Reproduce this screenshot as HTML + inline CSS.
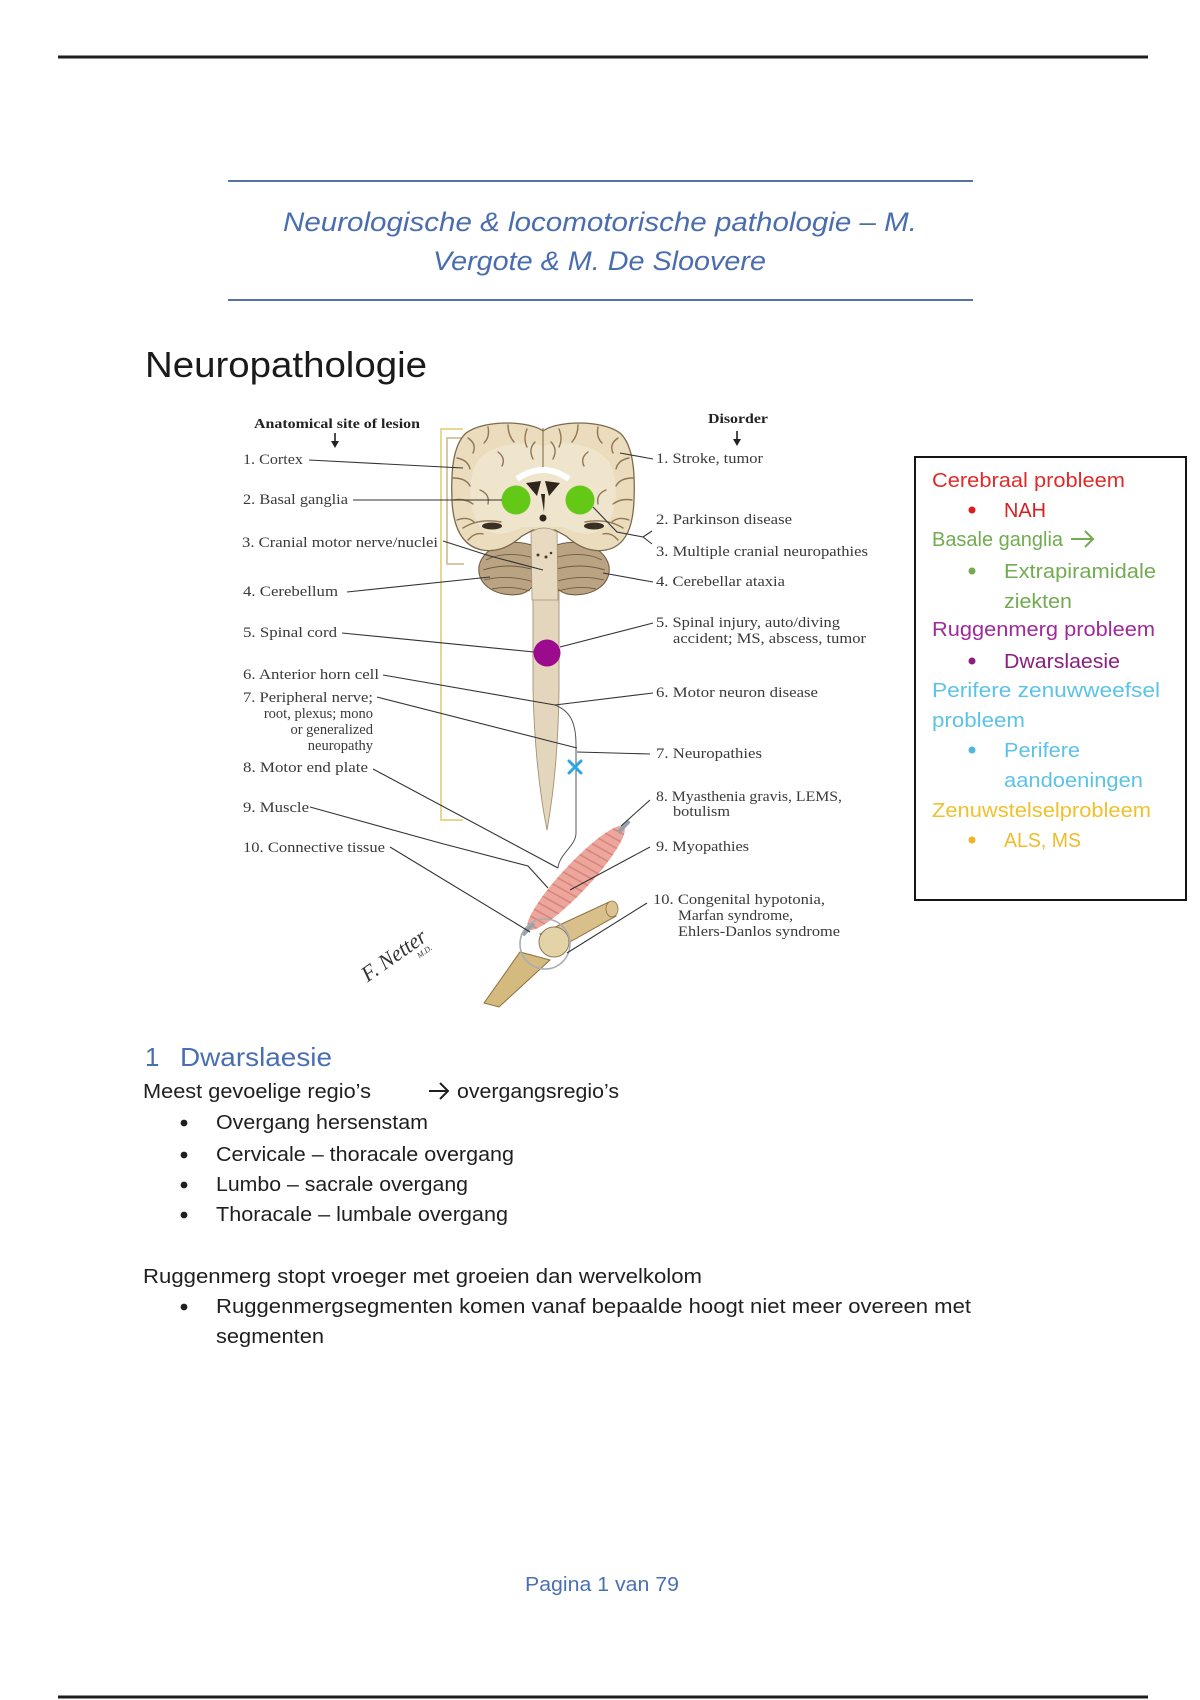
<!DOCTYPE html>
<html>
<head>
<meta charset="utf-8">
<style>
html,body{margin:0;padding:0;background:#fff;}
body{width:1200px;height:1700px;overflow:hidden;}
svg{display:block;}
.sans{font-family:"Liberation Sans",sans-serif;}
.serif{font-family:"Liberation Serif",serif;}
</style>
</head>
<body>
<svg width="1200" height="1700" viewBox="0 0 1200 1700" xmlns="http://www.w3.org/2000/svg">
<defs>
  <clipPath id="mclip">
    <ellipse cx="0" cy="0" rx="70" ry="14"/>
  </clipPath>
</defs>
<rect x="0" y="0" width="1200" height="1700" fill="#ffffff"/>

<!-- page lines -->
<line x1="58" y1="57" x2="1148" y2="57" stroke="#1e1e1e" stroke-width="3"/>
<line x1="58" y1="1697" x2="1148" y2="1697" stroke="#1e1e1e" stroke-width="3"/>

<!-- header -->
<line x1="228" y1="181" x2="973" y2="181" stroke="#5573a8" stroke-width="2"/>
<line x1="228" y1="300" x2="973" y2="300" stroke="#5573a8" stroke-width="2"/>
<g class="sans" font-style="italic" fill="#4a6db0" font-size="27">
  <text x="283" y="231" textLength="634" lengthAdjust="spacingAndGlyphs">Neurologische &amp; locomotorische pathologie – M.</text>
  <text x="433" y="270" textLength="333" lengthAdjust="spacingAndGlyphs">Vergote &amp; M. De Sloovere</text>
</g>

<text class="sans" x="145" y="377" font-size="36" fill="#1a1a1a" textLength="282" lengthAdjust="spacingAndGlyphs">Neuropathologie</text>

<!-- ================= DIAGRAM ================= -->
<!-- yellow bracket -->
<polyline points="463,429 441,429 441,820 463,820" fill="none" stroke="#e6d88e" stroke-width="2"/>
<polyline points="464,438 447,438 447,564 464,564" fill="none" stroke="#d8c7a4" stroke-width="2"/>

<!-- spinal cord -->
<path d="M533,590 L533,690 Q535,770 547,830 Q558,770 559,690 L559,590 Z" fill="#e4d6bc" stroke="#a39274" stroke-width="0.9"/>

<!-- cerebellum -->
<path d="M538,548 C 516,536 484,544 479,566 C 476,587 500,598 521,594 C 532,591 538,581 538,570 Z" fill="#b9a382" stroke="#6b573e" stroke-width="1"/>
<path d="M550,548 C 572,536 604,544 609,566 C 612,587 588,598 567,594 C 556,591 550,581 550,570 Z" fill="#b9a382" stroke="#6b573e" stroke-width="1"/>
<g fill="none" stroke="#6f5b40" stroke-width="0.9">
  <path d="M486,560 q20,-10 48,-2"/><path d="M483,570 q25,-8 52,0"/><path d="M484,580 q24,-6 50,2"/><path d="M492,589 q18,-4 38,2"/>
  <path d="M602,560 q-20,-10 -48,-2"/><path d="M605,570 q-25,-8 -52,0"/><path d="M604,580 q-24,-6 -50,2"/><path d="M596,589 q-18,-4 -38,2"/>
</g>

<!-- cerebrum -->
<path d="M543,431 C 530,421 485,419 466,433 C 452,446 451,475 452,500 C 453,527 462,546 482,550 C 498,553 512,545 522,536 L 533,530 L 555,530 L 566,536 C 576,545 590,553 606,550 C 626,546 633,527 634,500 C 635,475 634,446 620,433 C 601,419 556,421 543,431 Z" fill="#eadcbd" stroke="#7d6a4c" stroke-width="1.3"/>
<path d="M543,446 C 522,440 490,444 477,462 C 467,480 468,510 480,526 C 492,537 508,535 522,527 L 564,527 C 578,535 594,537 606,526 C 618,510 619,480 609,462 C 596,444 564,440 543,446 Z" fill="#efe5cd"/>
<!-- gyri -->
<g fill="none" stroke="#8f7754" stroke-width="1.4" stroke-linecap="round">
  <path d="M468,438 q9,6 5,15"/><path d="M457,458 q11,2 13,11"/><path d="M453,478 q13,0 17,8"/>
  <path d="M454,500 q11,-2 19,4"/><path d="M457,520 q11,-4 17,2"/><path d="M468,540 q7,-8 15,-6"/>
  <path d="M488,427 q2,10 -4,16"/><path d="M508,425 q0,10 6,17"/><path d="M527,429 q-4,10 0,18"/>
  <path d="M535,442 q-7,7 -2,17"/><path d="M498,452 q8,6 4,14"/><path d="M480,490 q10,4 8,14"/>
  <path d="M618,438 q-9,6 -5,15"/><path d="M629,458 q-11,2 -13,11"/><path d="M633,478 q-13,0 -17,8"/>
  <path d="M632,500 q-11,-2 -19,4"/><path d="M629,520 q-11,-4 -17,2"/><path d="M618,540 q-7,-8 -15,-6"/>
  <path d="M598,427 q-2,10 4,16"/><path d="M578,425 q0,10 -6,17"/><path d="M559,429 q4,10 0,18"/>
  <path d="M551,442 q7,7 2,17"/><path d="M588,452 q-8,6 -4,14"/><path d="M606,490 q-10,4 -8,14"/>
  <path d="M463,528 q16,-10 38,-6"/><path d="M623,528 q-16,-10 -38,-6"/>
</g>
<line x1="543" y1="428" x2="543" y2="470" stroke="#8f7754" stroke-width="1.2"/>
<!-- ventricles -->
<path d="M517,479 Q543,461 569,479" fill="none" stroke="#ffffff" stroke-width="6"/>
<path d="M526,483 L541,481 L537,496 Z" fill="#2e251c"/>
<path d="M560,483 L545,481 L549,496 Z" fill="#2e251c"/>
<path d="M541,494 L545,494 L544,512 Z" fill="#2e251c"/>
<circle cx="543" cy="518" r="3.5" fill="#2e251c"/>
<ellipse cx="492" cy="526" rx="10" ry="3.5" fill="#3b2f23"/>
<ellipse cx="594" cy="526" rx="10" ry="3.5" fill="#3b2f23"/>
<!-- brainstem -->
<path d="M531,532 Q544,524 557,532 L558,600 L532,600 Z" fill="#e7dac0" stroke="#a39274" stroke-width="0.8"/>
<g fill="#4a3b2c"><circle cx="538" cy="555" r="1.5"/><circle cx="546" cy="557" r="1.5"/><circle cx="551" cy="553" r="1.3"/></g>

<!-- nerve -->
<path d="M555,705 C 570,711 576,722 576,745 L 576,833 C 576,846 559,854 558,868" fill="none" stroke="#555" stroke-width="1"/>

<!-- muscle -->
<g transform="translate(576,878) rotate(-47)">
  <ellipse cx="0" cy="0" rx="70" ry="14" fill="#eda69c"/>
  <g clip-path="url(#mclip)" stroke="#d7867e" stroke-width="1.6">
    <line x1="-70" y1="-20" x2="-60" y2="20"/><line x1="-62" y1="-20" x2="-52" y2="20"/><line x1="-54" y1="-20" x2="-44" y2="20"/>
    <line x1="-46" y1="-20" x2="-36" y2="20"/><line x1="-38" y1="-20" x2="-28" y2="20"/><line x1="-30" y1="-20" x2="-20" y2="20"/>
    <line x1="-22" y1="-20" x2="-12" y2="20"/><line x1="-14" y1="-20" x2="-4" y2="20"/><line x1="-6" y1="-20" x2="4" y2="20"/>
    <line x1="2" y1="-20" x2="12" y2="20"/><line x1="10" y1="-20" x2="20" y2="20"/><line x1="18" y1="-20" x2="28" y2="20"/>
    <line x1="26" y1="-20" x2="36" y2="20"/><line x1="34" y1="-20" x2="44" y2="20"/><line x1="42" y1="-20" x2="52" y2="20"/>
    <line x1="50" y1="-20" x2="60" y2="20"/><line x1="58" y1="-20" x2="68" y2="20"/>
  </g>
  <line x1="62" y1="0" x2="78" y2="0" stroke="#9aa0a8" stroke-width="4"/>
  <line x1="-62" y1="0" x2="-78" y2="0" stroke="#9aa0a8" stroke-width="4"/>
</g>

<!-- knee -->
<path d="M484,1003 L520,952 L550,960 L499,1007 Z" fill="#d5ba80" stroke="#8c7040" stroke-width="1"/>
<path d="M540,934 L609,902 L616,916 L552,952 Z" fill="#d9c08a" stroke="#8c7040" stroke-width="1"/>
<ellipse cx="612" cy="909" rx="6" ry="8" fill="#dcc490" stroke="#8c7040" stroke-width="0.8"/>
<circle cx="554" cy="942" r="15" fill="#e3d3a6" stroke="#8c7a55" stroke-width="1"/>
<circle cx="545" cy="944" r="25" fill="none" stroke="#a8adb5" stroke-width="1.6"/>

<!-- colored markers -->
<circle cx="516" cy="500" r="14.5" fill="#63c816"/>
<circle cx="580" cy="500" r="14.5" fill="#63c816"/>
<circle cx="547" cy="653" r="13.5" fill="#9c0a8d"/>
<g stroke="#2aa8e2" stroke-width="3" stroke-linecap="round">
  <line x1="569" y1="761" x2="581" y2="773"/><line x1="581" y1="761" x2="569" y2="773"/>
</g>

<!-- leader lines -->
<g fill="none" stroke="#333" stroke-width="1.1">
  <path d="M309,460 L463,468"/>
  <path d="M353,500 L502,500"/>
  <path d="M443,541 L490,556 L543,570"/>
  <path d="M347,592 L490,577"/>
  <path d="M342,633 L534,652"/>
  <path d="M383,675 L555,705"/>
  <path d="M377,697 L577,748"/>
  <path d="M373,769 L558,868"/>
  <path d="M310,807 L440,843 L528,866 L548,888"/>
  <path d="M390,847 L530,932"/>
  <path d="M620,453 L653,459"/>
  <path d="M593,507 L617,532 L643,537"/>
  <path d="M643,537 L652,531 M643,537 L652,544"/>
  <path d="M603,573 L653,582"/>
  <path d="M560,647 L653,623"/>
  <path d="M555,705 L653,693"/>
  <path d="M577,752 L650,754"/>
  <path d="M650,800 L621,826"/>
  <path d="M650,847 L570,890"/>
  <path d="M647,903 L567,953"/>
</g>

<!-- column headers -->
<g class="serif" font-weight="bold" fill="#222" font-size="14">
  <text x="254" y="428" textLength="166" lengthAdjust="spacingAndGlyphs">Anatomical site of lesion</text>
  <text x="708" y="423" textLength="60" lengthAdjust="spacingAndGlyphs">Disorder</text>
</g>
<g stroke="#222" stroke-width="1.6"><line x1="335" y1="433" x2="335" y2="442"/><line x1="737" y1="431" x2="737" y2="440"/></g>
<path d="M331,441 L339,441 L335,448 Z" fill="#222"/>
<path d="M733,439 L741,439 L737,446 Z" fill="#222"/>

<!-- left labels -->
<g class="serif" fill="#3a3a3a" font-size="14.5">
  <text x="243" y="464" textLength="60" lengthAdjust="spacingAndGlyphs">1. Cortex</text>
  <text x="243" y="504" textLength="105" lengthAdjust="spacingAndGlyphs">2. Basal ganglia</text>
  <text x="242" y="547" textLength="196" lengthAdjust="spacingAndGlyphs">3. Cranial motor nerve/nuclei</text>
  <text x="243" y="596" textLength="95" lengthAdjust="spacingAndGlyphs">4. Cerebellum</text>
  <text x="243" y="637" textLength="94" lengthAdjust="spacingAndGlyphs">5. Spinal cord</text>
  <text x="243" y="679" textLength="136" lengthAdjust="spacingAndGlyphs">6. Anterior horn cell</text>
  <text x="243" y="702" textLength="130" lengthAdjust="spacingAndGlyphs">7. Peripheral nerve;</text>
  <text x="373" y="718" text-anchor="end">root, plexus; mono</text>
  <text x="373" y="734" text-anchor="end">or generalized</text>
  <text x="373" y="750" text-anchor="end">neuropathy</text>
  <text x="243" y="772" textLength="125" lengthAdjust="spacingAndGlyphs">8. Motor end plate</text>
  <text x="243" y="812" textLength="66" lengthAdjust="spacingAndGlyphs">9. Muscle</text>
  <text x="243" y="852" textLength="142" lengthAdjust="spacingAndGlyphs">10. Connective tissue</text>
</g>

<!-- right labels -->
<g class="serif" fill="#3a3a3a" font-size="14.5">
  <text x="656" y="463" textLength="107" lengthAdjust="spacingAndGlyphs">1. Stroke, tumor</text>
  <text x="656" y="524" textLength="136" lengthAdjust="spacingAndGlyphs">2. Parkinson disease</text>
  <text x="656" y="556" textLength="212" lengthAdjust="spacingAndGlyphs">3. Multiple cranial neuropathies</text>
  <text x="656" y="586" textLength="129" lengthAdjust="spacingAndGlyphs">4. Cerebellar ataxia</text>
  <text x="656" y="627" textLength="184" lengthAdjust="spacingAndGlyphs">5. Spinal injury, auto/diving</text>
  <text x="673" y="643" textLength="193" lengthAdjust="spacingAndGlyphs">accident; MS, abscess, tumor</text>
  <text x="656" y="697" textLength="162" lengthAdjust="spacingAndGlyphs">6. Motor neuron disease</text>
  <text x="656" y="758" textLength="106" lengthAdjust="spacingAndGlyphs">7. Neuropathies</text>
  <text x="656" y="801" textLength="186" lengthAdjust="spacingAndGlyphs">8. Myasthenia gravis, LEMS,</text>
  <text x="673" y="816" textLength="57" lengthAdjust="spacingAndGlyphs">botulism</text>
  <text x="656" y="851" textLength="93" lengthAdjust="spacingAndGlyphs">9. Myopathies</text>
  <text x="653" y="904" textLength="172" lengthAdjust="spacingAndGlyphs">10. Congenital hypotonia,</text>
  <text x="678" y="920" textLength="115" lengthAdjust="spacingAndGlyphs">Marfan syndrome,</text>
  <text x="678" y="936" textLength="162" lengthAdjust="spacingAndGlyphs">Ehlers-Danlos syndrome</text>
</g>

<!-- signature -->
<g transform="translate(392,958) rotate(-35)" class="serif" font-style="italic" fill="#333">
  <text x="-34" y="6" font-size="22" textLength="74" lengthAdjust="spacingAndGlyphs">F. Netter</text>
  <text x="22" y="16" font-size="8">M.D.</text>
</g>

<!-- ================= COLORED BOX ================= -->
<rect x="915" y="457" width="271" height="443" fill="#ffffff" stroke="#151515" stroke-width="2"/>
<g class="sans" font-size="20">
  <text x="932" y="487" fill="#e02b2b" textLength="193" lengthAdjust="spacingAndGlyphs">Cerebraal probleem</text>
  <circle cx="972" cy="510" r="3.5" fill="#d91e1e"/>
  <text x="1004" y="517" fill="#d91e1e" textLength="42" lengthAdjust="spacingAndGlyphs">NAH</text>
  <text x="932" y="546" fill="#72ab50" textLength="131" lengthAdjust="spacingAndGlyphs">Basale ganglia</text>
  <circle cx="972" cy="571" r="3.5" fill="#72ab50"/>
  <text x="1004" y="578" fill="#72ab50" textLength="152" lengthAdjust="spacingAndGlyphs">Extrapiramidale</text>
  <text x="1004" y="608" fill="#72ab50" textLength="68" lengthAdjust="spacingAndGlyphs">ziekten</text>
  <text x="932" y="636" fill="#a02a9a" textLength="223" lengthAdjust="spacingAndGlyphs">Ruggenmerg probleem</text>
  <circle cx="972" cy="661" r="3.5" fill="#8a1f80"/>
  <text x="1004" y="668" fill="#8a1f80" textLength="116" lengthAdjust="spacingAndGlyphs">Dwarslaesie</text>
  <text x="932" y="697" fill="#5cc3e6" textLength="228" lengthAdjust="spacingAndGlyphs">Perifere zenuwweefsel</text>
  <text x="932" y="727" fill="#5cc3e6" textLength="93" lengthAdjust="spacingAndGlyphs">probleem</text>
  <circle cx="972" cy="750" r="3.5" fill="#4fb5e2"/>
  <text x="1004" y="757" fill="#5cc3e6" textLength="76" lengthAdjust="spacingAndGlyphs">Perifere</text>
  <text x="1004" y="787" fill="#5cc3e6" textLength="139" lengthAdjust="spacingAndGlyphs">aandoeningen</text>
  <text x="932" y="817" fill="#f0c12e" textLength="219" lengthAdjust="spacingAndGlyphs">Zenuwstelselprobleem</text>
  <circle cx="972" cy="840" r="3.5" fill="#eeb420"/>
  <text x="1004" y="847" fill="#efbb26" textLength="77" lengthAdjust="spacingAndGlyphs">ALS, MS</text>
</g>
<path d="M1071,539 L1093,539 M1085,531 L1093,539 L1085,547" fill="none" stroke="#72ab50" stroke-width="2"/>

<!-- ================= BODY TEXT ================= -->
<g class="sans" fill="#4a6fb0" font-size="26">
  <text x="145" y="1066">1</text>
  <text x="180" y="1066" textLength="152" lengthAdjust="spacingAndGlyphs">Dwarslaesie</text>
</g>
<g class="sans" fill="#1f1f1f" font-size="20">
  <text x="143" y="1098" textLength="228" lengthAdjust="spacingAndGlyphs">Meest gevoelige regio’s</text>
  <text x="457" y="1098" textLength="162" lengthAdjust="spacingAndGlyphs">overgangsregio’s</text>

  <circle cx="184" cy="1123" r="3.4"/>
  <text x="216" y="1129" textLength="212" lengthAdjust="spacingAndGlyphs">Overgang hersenstam</text>
  <circle cx="184" cy="1155" r="3.4"/>
  <text x="216" y="1161" textLength="298" lengthAdjust="spacingAndGlyphs">Cervicale – thoracale overgang</text>
  <circle cx="184" cy="1185" r="3.4"/>
  <text x="216" y="1191" textLength="252" lengthAdjust="spacingAndGlyphs">Lumbo – sacrale overgang</text>
  <circle cx="184" cy="1215" r="3.4"/>
  <text x="216" y="1221" textLength="292" lengthAdjust="spacingAndGlyphs">Thoracale – lumbale overgang</text>

  <text x="143" y="1283" textLength="559" lengthAdjust="spacingAndGlyphs">Ruggenmerg stopt vroeger met groeien dan wervelkolom</text>
  <circle cx="184" cy="1307" r="3.4"/>
  <text x="216" y="1313" textLength="755" lengthAdjust="spacingAndGlyphs">Ruggenmergsegmenten komen vanaf bepaalde hoogt niet meer overeen met</text>
  <text x="216" y="1343" textLength="108" lengthAdjust="spacingAndGlyphs">segmenten</text>
</g>
<path d="M429,1091 L448,1091 M440,1083 L448,1091 L440,1099" fill="none" stroke="#1f1f1f" stroke-width="2"/>

<text class="sans" x="525" y="1591" font-size="20" fill="#4a70b5" textLength="154" lengthAdjust="spacingAndGlyphs">Pagina 1 van 79</text>
</svg>
</body>
</html>
